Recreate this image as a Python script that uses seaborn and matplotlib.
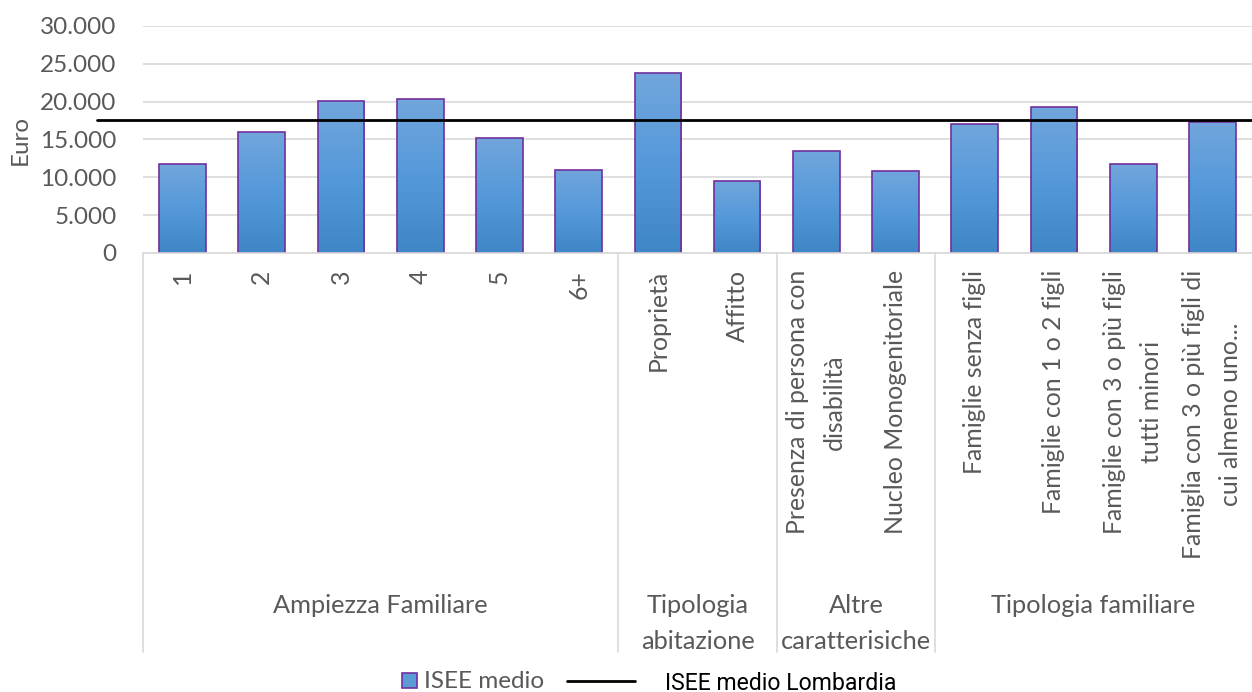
import matplotlib
matplotlib.use("Agg")
import matplotlib.pyplot as plt
import seaborn as sns
import numpy as np
import pandas as pd
from matplotlib.lines import Line2D
import matplotlib.transforms as mtransforms
from matplotlib.ticker import FuncFormatter
from matplotlib.colors import LinearSegmentedColormap
from matplotlib.font_manager import FontProperties

# ---- data ----
categories = ["1", "2", "3", "4", "5", "6+",
              "Proprietà", "Affitto",
              "Presenza di persona con\ndisabilità", "Nucleo Monogenitoriale",
              "Famiglie senza figli", "Famiglie con 1 o 2 figli",
              "Famiglie con 3 o più figli\ntutti minori",
              "Famiglia con 3 o più figli di\ncui almeno uno..."]
isee_medio = [11700, 16000, 20150, 20400, 15200, 11000,
              23750, 9550,
              13450, 10900,
              17100, 19300, 11700, 17250]
group_names = ["Ampiezza Familiare", "Tipologia\nabitazione",
               "Altre\ncaratterisiche", "Tipologia familiare"]
group_sizes = [6, 2, 2, 4]
isee_lombardia = 17550
y_ticks = [0, 5000, 10000, 15000, 20000, 25000, 30000]

df = pd.DataFrame({"cat": categories, "val": isee_medio})

sns.set_theme(style="white")
MAIN = ["Lato", "DejaVu Sans"]
ALT = ["Roboto", "DejaVu Sans"]
plt.rcParams["font.family"] = MAIN
gray = "#595959"
W, H = 1252, 692

fig = plt.figure(figsize=(W / 100, H / 100), dpi=100)
fig.canvas.draw()
renderer = fig.canvas.get_renderer()


def fit(text, family, target_px, base=20.0):
    t = fig.text(0, 0, text, fontsize=base, family=family)
    w = t.get_window_extent(renderer).width
    t.remove()
    return base * target_px / w


def spacing(family, fs, target_px):
    prop = FontProperties(family=family, size=fs)
    _, h, d = renderer.get_text_width_height_descent("lp", prop, ismath=False)
    return target_px / (h - d)


ytick_fs = fit("30.000", MAIN, 76)
xtick_fs = fit("Famiglie senza figli", MAIN, 205)
group_fs = fit("Ampiezza Familiare", MAIN, 215)
euro_fs = fit("Euro", MAIN, 50)
leg1_fs = fit("ISEE medio", MAIN, 120)
leg2_fs = fit("ISEE medio Lombardia", ALT, 231)

left_px, top_px, bot_px = 143, 26, 253
ax = fig.add_axes([left_px / W, 1 - bot_px / H, 1 - left_px / W, (bot_px - top_px) / H])

sns.barplot(data=df, x="cat", y="val", order=categories, ax=ax,
            color="#5b9bd5", edgecolor="#7030a0", linewidth=1.2,
            width=0.59, saturation=1, zorder=2)

# gradient fill inside bars
grad = np.linspace(0, 1, 256).reshape(-1, 1)
cmap = LinearSegmentedColormap.from_list("g", ["#72a6dc", "#5599da", "#3f86c7"])
for p in ax.patches:
    x0, y0 = p.get_x(), p.get_y()
    w, h = p.get_width(), p.get_height()
    im = ax.imshow(grad, extent=(x0, x0 + w, y0, y0 + h), cmap=cmap,
                   aspect="auto", origin="upper", zorder=2.1)
    im.set_clip_path(p)
    p.set_facecolor("none")
    p.set_zorder(2.2)

ax.set_xlim(-0.5, len(categories) - 0.5)
ax.set_ylim(0, 30000)
ax.set_yticks(y_ticks)
ax.yaxis.set_major_formatter(FuncFormatter(lambda v, _: f"{int(v):,}".replace(",", ".")))
ax.grid(axis="y", color="#d9d9d9", linewidth=1.2, zorder=0)
for s in ["top", "right", "left"]:
    ax.spines[s].set_visible(False)
ax.spines["bottom"].set_color("#d9d9d9")
ax.spines["bottom"].set_linewidth(1.2)
ax.tick_params(axis="y", length=0, labelsize=ytick_fs, labelcolor=gray,
               pad=(left_px - 116.7) * 0.72)
ax.tick_params(axis="x", length=0, labelsize=xtick_fs, labelcolor=gray,
               pad=(272 - bot_px) * 0.72 - 1.5)
ax.set_xlabel("")
ax.set_ylabel("Euro", fontsize=euro_fs, color=gray, va="center")
ax.yaxis.set_label_coords((20.5 - left_px) / (W - left_px),
                          (bot_px - 140) / (bot_px - top_px))
plt.setp(ax.get_xticklabels(), rotation=90, ha="center", va="top",
         multialignment="center", linespacing=spacing(MAIN, xtick_fs, 33))

# average line (extends left of plot area)
ax.plot([-1.08, len(categories) - 0.5], [isee_lombardia, isee_lombardia],
        color="black", linewidth=2, clip_on=False, zorder=3)

# group separators and labels
trans = mtransforms.blended_transform_factory(ax.transData, fig.transFigure)
edges = np.concatenate([[0], np.cumsum(group_sizes)]) - 0.5
for e in edges[:-1]:
    ax.plot([e, e], [1 - bot_px / H, 1 - 652 / H], transform=trans,
            color="#d9d9d9", linewidth=1.2, clip_on=False)
g_ls = spacing(MAIN, group_fs, 32)
for name, a, b in zip(group_names, edges[:-1], edges[1:]):
    ax.text((a + b) / 2, 1 - 594 / H, name, transform=trans, ha="center",
            va="top", fontsize=group_fs, color=gray, linespacing=g_ls)

# legend
px1 = leg1_fs * 100 / 72
px2 = leg2_fs * 100 / 72
h1 = Line2D([], [], marker="s", markersize=15 * 0.72, markerfacecolor="#5b9bd5",
            markeredgecolor="#7030a0", markeredgewidth=1.2, linestyle="none")
h2 = Line2D([], [], color="black", linewidth=2)
leg1 = fig.legend([h1], ["ISEE medio"], loc="center left",
                  bbox_to_anchor=(401.7 / W, 1 - 682 / H), frameon=False,
                  fontsize=leg1_fs, handlelength=15 / px1,
                  handletextpad=7 / px1, borderpad=0, borderaxespad=0)
leg1.get_texts()[0].set_color(gray)
leg2 = fig.legend([h2], ["ISEE medio Lombardia"], loc="center left",
                  bbox_to_anchor=(566.7 / W, 1 - 683 / H), frameon=False,
                  handlelength=68 / px2, handletextpad=30 / px2,
                  borderpad=0, borderaxespad=0,
                  prop={"family": ALT, "size": leg2_fs})
leg2.get_texts()[0].set_color("black")

fig.savefig("out.png", dpi=100)
